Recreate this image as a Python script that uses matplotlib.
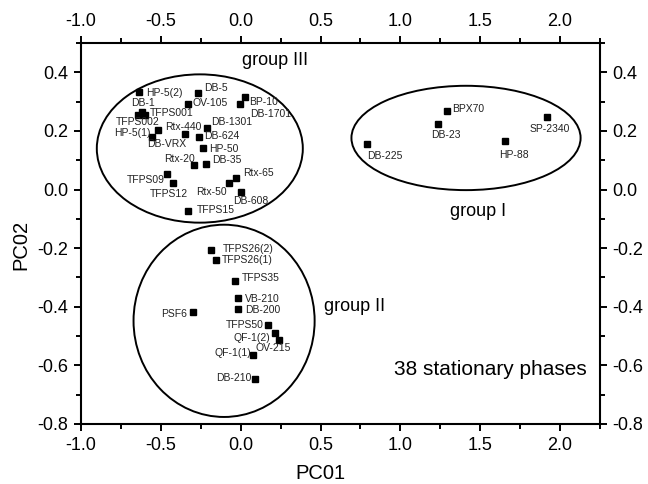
import matplotlib
matplotlib.use("Agg")
import matplotlib.pyplot as plt
from matplotlib.patches import Ellipse
from matplotlib.ticker import MultipleLocator, FormatStrFormatter

plt.rcParams['font.family'] = ['Liberation Sans', 'DejaVu Sans']
plt.rcParams['axes.unicode_minus'] = False

# stationary phases, PC01 / PC02 scores
names = ['HP-5(2)', 'DB-5', 'OV-105', 'BP-10', 'DB-1701', 'DB-1', 'TFPS001',
         'TFPS002', 'HP-5(1)', 'DB-VRX', 'Rtx-440', 'DB-1301', 'DB-624', 'HP-50',
         'Rtx-20', 'DB-35', 'TFPS09', 'TFPS12', 'Rtx-65', 'Rtx-50', 'DB-608',
         'TFPS15',
         'TFPS26(2)', 'TFPS26(1)', 'TFPS35', 'VB-210', 'DB-200', 'PSF6',
         'TFPS50', 'QF-1(2)', 'OV-215', 'QF-1(1)', 'DB-210',
         'BPX70', 'DB-23', 'DB-225', 'HP-88', 'SP-2340']
pc01 = [-0.636, -0.265, -0.329, 0.025, -0.006, -0.619, -0.598,
        -0.646, -0.553, -0.517, -0.350, -0.209, -0.259, -0.234,
        -0.294, -0.217, -0.461, -0.425, -0.031, -0.075, 0.002,
        -0.328,
        -0.188, -0.156, -0.036, -0.015, -0.019, -0.296,
        0.169, 0.212, 0.239, 0.077, 0.088,
        1.289, 1.233, 0.791, 1.658, 1.916]
pc02 = [0.334, 0.331, 0.291, 0.317, 0.293, 0.264, 0.256,
        0.253, 0.180, 0.202, 0.191, 0.211, 0.180, 0.143,
        0.085, 0.088, 0.054, 0.022, 0.038, 0.022, -0.009,
        -0.074,
        -0.205, -0.242, -0.313, -0.369, -0.407, -0.417,
        -0.461, -0.489, -0.514, -0.565, -0.646,
        0.269, 0.222, 0.155, 0.165, 0.247]

# group outlines (centre x, centre y, width, height)
group_names = ['group III', 'group II', 'group I']
group_cx = [-0.256, -0.104, 1.411]
group_cy = [0.140, -0.448, 0.176]
group_w = [1.29, 1.134, 1.435]
group_h = [0.506, 0.656, 0.356]

# label placement: offset in pixels and horizontal alignment
label_pos = {
    'HP-5(2)': (7, -1, 'left'), 'DB-5': (6, 5, 'left'), 'OV-105': (4, 1, 'left'),
    'BP-10': (4, -5, 'left'), 'DB-1701': (10, -10, 'left'), 'DB-1': (1, 9, 'center'),
    'TFPS001': (5, 2, 'left'), 'TFPS002': (0, -7, 'center'), 'HP-5(1)': (-2, 4, 'right'),
    'DB-VRX': (-11, -14, 'left'), 'Rtx-440': (-1, 7, 'center'), 'DB-1301': (4, 6, 'left'),
    'DB-624': (5, 1, 'left'), 'HP-50': (6, -1, 'left'), 'Rtx-20': (1, 6, 'right'),
    'DB-35': (6, 4, 'left'), 'TFPS09': (-2, -6, 'right'), 'TFPS12': (-4, -11, 'center'),
    'Rtx-65': (7, 5, 'left'), 'Rtx-50': (-2, -9, 'right'), 'DB-608': (-8, -9, 'left'),
    'TFPS15': (9, 1, 'left'),
    'TFPS26(2)': (12, 1, 'left'), 'TFPS26(1)': (6, 0, 'left'), 'TFPS35': (7, 3, 'left'),
    'VB-210': (7, -1, 'left'), 'DB-200': (7, -1, 'left'), 'PSF6': (-6, -2, 'right'),
    'TFPS50': (-4, 0, 'right'), 'QF-1(2)': (-4, -5, 'right'), 'OV-215': (-6, -8, 'center'),
    'QF-1(1)': (-2, 2, 'right'), 'DB-210': (-3, 1, 'right'),
    'BPX70': (6, 2, 'left'), 'DB-23': (-6, -11, 'left'), 'DB-225': (0, -12, 'left'),
    'HP-88': (-6, -14, 'left'), 'SP-2340': (3, -12, 'center'),
}

fig = plt.figure(figsize=(6.48, 4.84), dpi=100)
ax = fig.add_axes([81 / 648, 60 / 484, 519 / 648, 381 / 484])

ax.plot(pc01, pc02, 's', color='black', markersize=4, linestyle='none')
for n, x, y in zip(names, pc01, pc02):
    dx, dy, ha = label_pos[n]
    ax.annotate(n, (x, y), xytext=(dx, dy), textcoords='offset pixels',
                ha=ha, va='center', fontsize=7.5, color='#222222')

for cx, cy, w, h in zip(group_cx, group_cy, group_w, group_h):
    ax.add_patch(Ellipse((cx, cy), w, h, fill=False, edgecolor='black', linewidth=1.4))

ax.text(0.214, 0.441, 'group III', ha='center', va='center', fontsize=13)
ax.text(0.711, -0.40, 'group II', ha='center', va='center', fontsize=13)
ax.text(1.489, -0.074, 'group I', ha='center', va='center', fontsize=13)
ax.text(2.164, -0.615, '38 stationary phases', ha='right', va='center', fontsize=15)

ax.set_xlim(-1.0, 2.25)
ax.set_ylim(-0.8, 0.5)
ax.xaxis.set_major_locator(MultipleLocator(0.5))
ax.xaxis.set_minor_locator(MultipleLocator(0.25))
ax.yaxis.set_major_locator(MultipleLocator(0.2))
ax.yaxis.set_minor_locator(MultipleLocator(0.1))
ax.xaxis.set_major_formatter(FormatStrFormatter('%.1f'))
ax.yaxis.set_major_formatter(FormatStrFormatter('%.1f'))
ax.tick_params(which='both', direction='out', top=True, right=True,
               labeltop=True, labelright=True, width=1.4, labelsize=13, pad=4)
ax.tick_params(which='major', length=5)
ax.tick_params(which='minor', length=3.5)
for s in ax.spines.values():
    s.set_linewidth(1.5)

ax.set_xlabel('PC01', fontsize=14.5)
ax.set_ylabel('PC02', fontsize=14.5)
ax.xaxis.set_label_coords(0.462, -0.105)
ax.yaxis.set_label_coords(-0.098, 0.47)

fig.savefig('out.png', dpi=100)
